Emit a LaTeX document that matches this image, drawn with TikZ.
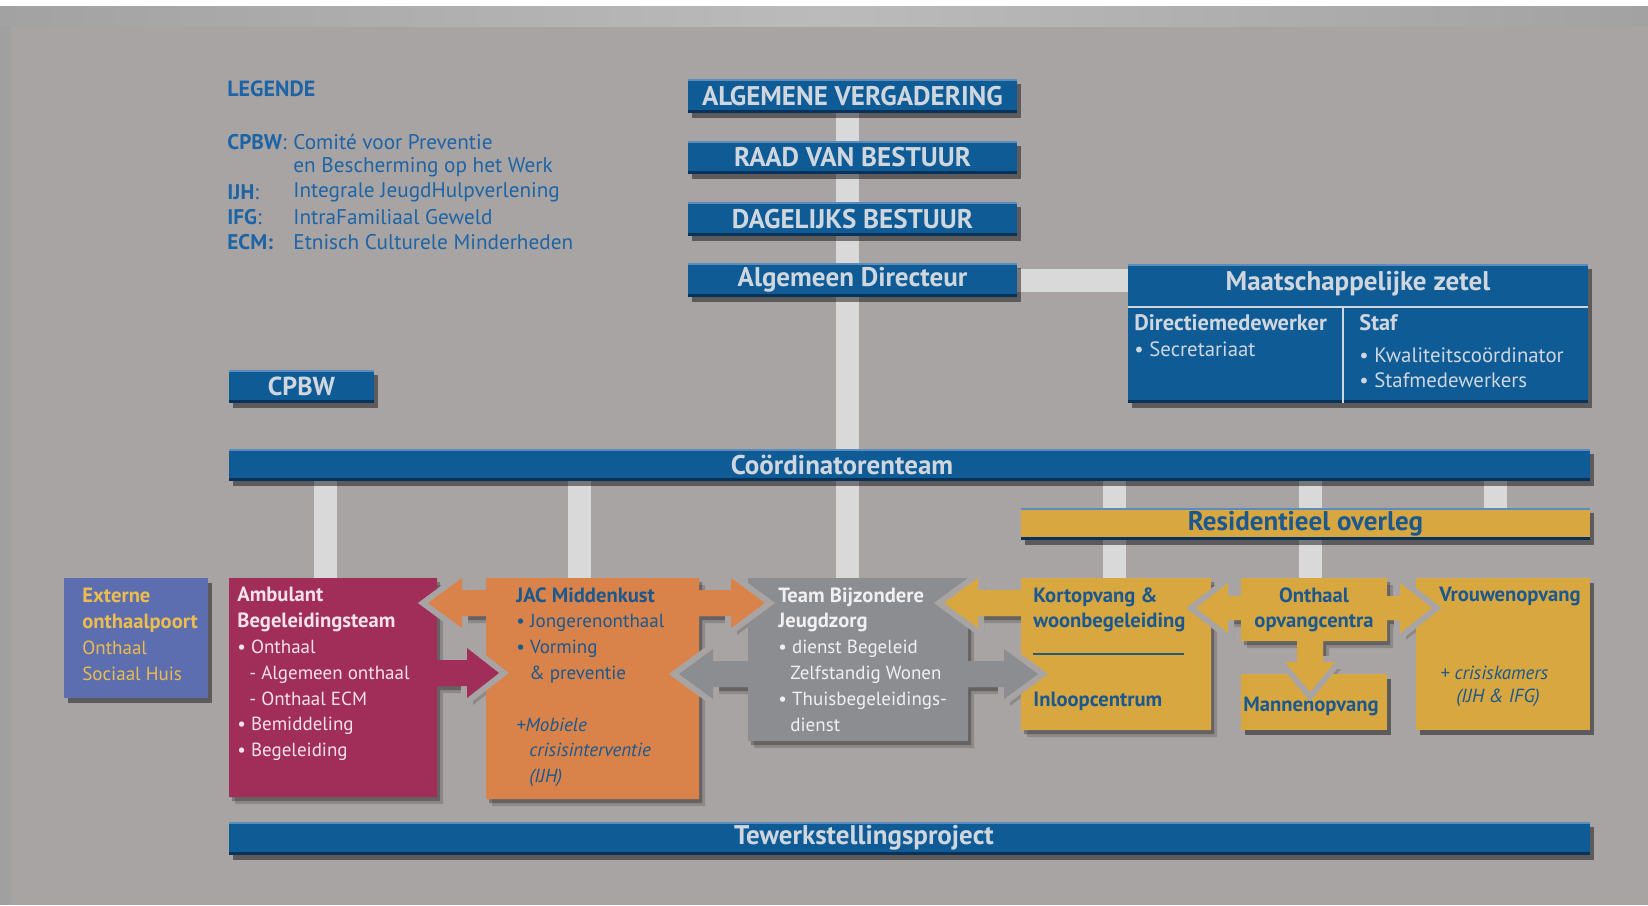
\documentclass[tikz,border=0pt]{standalone}
\usepackage{fontspec}
\setmainfont{PT Sans}
\usetikzlibrary{shadows,backgrounds}
\definecolor{bg}{RGB}{169,164,164}
\definecolor{stripmid}{RGB}{187,187,187}
\definecolor{stripend}{RGB}{162,162,162}
\definecolor{leftstrip}{RGB}{160,160,160}
\definecolor{barblue}{RGB}{14,91,150}
\definecolor{barhi}{RGB}{90,140,190}
\definecolor{barlo}{RGB}{8,50,90}
\definecolor{bartext}{RGB}{208,214,222}
\definecolor{legblue}{RGB}{28,100,165}
\definecolor{connc}{RGB}{217,217,217}
\definecolor{maroonc}{RGB}{160,46,88}
\definecolor{orangec}{RGB}{217,131,74}
\definecolor{grayc}{RGB}{140,141,145}
\definecolor{yellowc}{RGB}{216,167,64}
\definecolor{extblue}{RGB}{92,110,176}
\definecolor{extyellow}{RGB}{236,188,78}
\definecolor{darkblue}{RGB}{26,88,142}
\definecolor{pinkwhite}{RGB}{246,226,234}
\definecolor{nearwhite}{RGB}{240,240,242}
\definecolor{linec}{RGB}{40,90,120}
\newcommand\bx[1]{{\fontsize{10.3}{12.9}\selectfont\bfseries #1}}
\tikzset{
  shadowed/.style={drop shadow={shadow xshift=2pt, shadow yshift=-2.5pt, opacity=.45, fill=black}},
  bluebar/.style={rectangle, inner sep=0pt, fill=barblue, text=bartext, shadowed,
    font=\bfseries\fontsize{13.5}{15}\selectfont,
    path picture={\draw[barhi, line width=1pt] ([yshift=-0.5pt]path picture bounding box.north west) -- ([yshift=-0.5pt]path picture bounding box.north east);
                  \draw[barlo, line width=1.5pt] ([yshift=0.75pt]path picture bounding box.south west) -- ([yshift=0.75pt]path picture bounding box.south east);}},
  barlabel/.style={inner sep=0pt, text=bartext, font=\bfseries\fontsize{13.5}{15}\selectfont},
  connbar/.style={connc, line width=11.5pt, line cap=butt},
  boxbody/.style={rectangle, inner sep=0pt},
  plainbox/.style={rectangle, inner sep=0pt, shadowed},
  txt/.style={inner sep=0pt, align=left, font=\fontsize{9.5}{12.9}\selectfont},
  leg/.style={inner sep=0pt, text=legblue, font=\fontsize{10.6}{12}\selectfont},
  mzt/.style={inner sep=0pt, text=bartext, font=\fontsize{10.4}{12}\selectfont},
  shadA/.style={fill=black, opacity=.28},
  shadB/.style={fill=black, opacity=.16},
  halo/.style={fill=bg, draw=bg, line width=6pt, line join=miter},
}
\begin{document}
\begin{tikzpicture}[x=0.5pt,y=-0.5pt]
\useasboundingbox (0,0) rectangle (1648,905);

% ---------- shape outlines ----------
\def\pAmb{(229,578) -- (437,578) -- (437,660) -- (467,660) -- (467,648) -- (499,673) -- (467,698) -- (467,686) -- (437,686) -- (437,797) -- (229,797) -- cycle}
\def\pJac{(462,578) -- (428,603) -- (462,628) -- (462,616) -- (486,616) -- (486,799) -- (699,799) -- (699,616) -- (731,616) -- (731,628) -- (765,603) -- (731,578) -- (731,590) -- (699,590) -- (699,578) -- (486,578) -- (486,590) -- (462,590) -- cycle}
\def\pGray{(748,578) -- (968,578) -- (968,661) -- (1004,661) -- (1004,649) -- (1038,674) -- (1004,699) -- (1004,687) -- (968,687) -- (968,741) -- (748,741) -- (748,687) -- (713,687) -- (713,699) -- (679,674) -- (713,649) -- (713,661) -- (748,661) -- cycle}
\def\pKort{(1021,578) -- (1211,578) -- (1211,730) -- (1021,730) -- (1021,616) -- (978,616) -- (978,628) -- (944,603) -- (978,578) -- (978,590) -- (1021,590) -- cycle}
\def\pOnt{(1241,578) -- (1387,578) -- (1387,596) -- (1400,596) -- (1400,583) -- (1432,608) -- (1400,633) -- (1400,620) -- (1387,620) -- (1387,641) -- (1323,641) -- (1323,662) -- (1335,662) -- (1310,692) -- (1285,662) -- (1297,662) -- (1297,641) -- (1241,641) -- (1241,620) -- (1228,620) -- (1228,633) -- (1196,608) -- (1228,583) -- (1228,596) -- (1241,596) -- cycle}

% ---------- named nodes (bars and box bodies) ----------
\node[bluebar, minimum width=164.5pt, minimum height=17pt] (av) at (852.5,96) {ALGEMENE VERGADERING};
\node[bluebar, minimum width=164.5pt, minimum height=16.5pt] (rvb) at (852.5,157.5) {RAAD VAN BESTUUR};
\node[bluebar, minimum width=164.5pt, minimum height=17pt] (db) at (852.5,219) {DAGELIJKS BESTUUR};
\node[bluebar, minimum width=164.5pt, minimum height=17pt] (ad) at (852.5,280) {Algemeen Directeur};
\node[bluebar, font=\bfseries\fontsize{13}{15}\selectfont, minimum width=72.5pt, minimum height=16.5pt, text depth=0pt] (cpbw) at (301.5,386.5) {CPBW};
\node[bluebar, minimum width=230pt, minimum height=69.5pt] (mz) at (1358,333.5) {};
\node[bluebar, minimum width=680.5pt, minimum height=16pt] (coord) at (909.5,465) {};
\node[bluebar, fill=yellowc, text=darkblue, minimum width=284.5pt, minimum height=16pt] (res) at (1305.5,524) {Residentieel overleg};
\node[bluebar, minimum width=680.5pt, minimum height=16.5pt] (tw) at (909.5,838.5) {};

\node[boxbody, minimum width=104pt, minimum height=109.5pt] (ambb) at (333,687.5) {};
\node[boxbody, minimum width=106.5pt, minimum height=110.5pt] (jacb) at (592.5,688.5) {};
\node[boxbody, minimum width=110pt, minimum height=81.5pt] (grayb) at (858,659.5) {};
\node[boxbody, minimum width=95pt, minimum height=76pt] (kortb) at (1116,654) {};
\node[boxbody, minimum width=73pt, minimum height=31.5pt] (ontb) at (1314,609.5) {};

\coordinate (xmain) at (847,0);
\coordinate (xa) at (325,0);
\coordinate (xb) at (579,0);
\coordinate (xc) at (1114,0);
\coordinate (xd) at (1310,0);
\coordinate (xe) at (1495,0);

% ---------- background and connectors ----------
\begin{pgfonlayer}{background}
\fill[bg] (0,0) rectangle (1648,905);
\fill[white] (0,0) rectangle (1648,6);
\shade[left color=stripend, right color=stripend, middle color=stripmid] (0,6) rectangle (1648,26);
\fill[leftstrip] (0,26) rectangle (11,905);
\draw[connbar] (av.south -| xmain) -- (rvb.north -| xmain);
\draw[connbar] (rvb.south -| xmain) -- (db.north -| xmain);
\draw[connbar] (db.south -| xmain) -- (ad.north -| xmain);
\draw[connbar] (ad.south -| xmain) -- (coord.north -| xmain);
\draw[connbar] (coord.south -| xmain) -- (grayb.north -| xmain);
\draw[connbar] (ad.east) -- (mz.west |- ad.east);
\draw[connbar] (coord.south -| xa) -- (ambb.north -| xa);
\draw[connbar] (coord.south -| xb) -- (jacb.north -| xb);
\draw[connbar] (coord.south -| xc) -- (res.north -| xc);
\draw[connbar] (coord.south -| xd) -- (res.north -| xd);
\draw[connbar] (coord.south -| xe) -- (res.north -| xe);
\draw[connbar] (res.south -| xc) -- (kortb.north -| xc);
\draw[connbar] (res.south -| xd) -- (ontb.north -| xd);
\end{pgfonlayer}

% ---------- shadows of composite shapes ----------
\foreach \pp in {\pAmb,\pJac,\pGray,\pKort,\pOnt}{
  \fill[shadB, shift={(6,7)}] \pp;
  \fill[shadA, shift={(3,4)}] \pp;
}

% ---------- fills ----------
\fill[maroonc] \pAmb;
\fill[orangec] \pJac;
\fill[grayc] \pGray;
\fill[yellowc] \pKort;
\fill[yellowc] \pOnt;

\node[plainbox, fill=extblue, minimum width=72pt, minimum height=60pt] (ext) at (136,638) {};
\node[plainbox, fill=yellowc, minimum width=73pt, minimum height=28pt] (mann) at (1314,702) {};
\node[plainbox, fill=yellowc, minimum width=87pt, minimum height=76pt] (vrouw) at (1503,654) {};
\node[txt, text=darkblue, font=\bfseries\fontsize{10.3}{12}\selectfont] (mannt) at (1311,706) {Mannenopvang};

% ---------- notches (gaps round the arrow tips) ----------
\fill[halo] (462,578) -- (428,603) -- (462,628) -- cycle;
\fill[orangec] (486,590) -- (462,590) -- (462,578) -- (428,603) -- (462,628) -- (462,616) -- (486,616) -- cycle;
\fill[halo] (731,578) -- (765,603) -- (731,628) -- cycle;
\fill[orangec] (699,590) -- (731,590) -- (731,578) -- (765,603) -- (731,628) -- (731,616) -- (699,616) -- cycle;
\fill[halo] (467,648) -- (499,673) -- (467,698) -- cycle;
\fill[maroonc] (437,660) -- (467,660) -- (467,648) -- (499,673) -- (467,698) -- (467,686) -- (437,686) -- cycle;
\fill[halo] (713,649) -- (679,674) -- (713,699) -- cycle;
\fill[grayc] (748,661) -- (713,661) -- (713,649) -- (679,674) -- (713,699) -- (713,687) -- (748,687) -- cycle;
\fill[halo] (1004,649) -- (1038,674) -- (1004,699) -- cycle;
\fill[grayc] (968,661) -- (1004,661) -- (1004,649) -- (1038,674) -- (1004,699) -- (1004,687) -- (968,687) -- cycle;
\fill[halo] (978,578) -- (944,603) -- (978,628) -- cycle;
\fill[yellowc] (1021,590) -- (978,590) -- (978,578) -- (944,603) -- (978,628) -- (978,616) -- (1021,616) -- cycle;
\fill[halo] (1228,583) -- (1196,608) -- (1228,633) -- cycle;
\fill[yellowc] (1241,596) -- (1228,596) -- (1228,583) -- (1196,608) -- (1228,633) -- (1228,620) -- (1241,620) -- cycle;
\fill[halo] (1400,583) -- (1432,608) -- (1400,633) -- cycle;
\fill[yellowc] (1387,596) -- (1400,596) -- (1400,583) -- (1432,608) -- (1400,633) -- (1400,620) -- (1387,620) -- cycle;
\fill[halo] (1285,662) -- (1310,692) -- (1335,662) -- cycle;
\fill[yellowc] (1297,641) -- (1297,662) -- (1285,662) -- (1310,692) -- (1335,662) -- (1323,662) -- (1323,641) -- cycle;

% ---------- Maatschappelijke zetel inner lines ----------
\draw[bartext, line width=1pt] (mz.west |- 0,307) -- (mz.east |- 0,307);
\draw[bartext, line width=1pt] (1343,307) -- (1343,403);

% ---------- texts ----------
\node[barlabel] (coordt) at (842,465) {Coördinatorenteam};
\node[barlabel] (twt) at (864,838) {Tewerkstellingsproject};
\node[barlabel] (mzt) at (1358,284) {Maatschappelijke zetel};
\node[mzt, anchor=west, font=\bfseries\fontsize{11.2}{12}\selectfont] (mz1) at (1134,323) {Directiemedewerker};
\node[mzt, anchor=west] (mz2) at (1134,349) {• Secretariaat};
\node[mzt, anchor=west, font=\bfseries\fontsize{11.2}{12}\selectfont] (mz3) at (1359,323) {Staf};
\node[mzt, anchor=west] (mz4) at (1359,355) {• Kwaliteitscoördinator};
\node[mzt, anchor=west] (mz5) at (1359,380) {• Stafmedewerkers};

\node[leg, anchor=west, font=\bfseries\fontsize{11}{12}\selectfont] (legt) at (227,89) {LEGENDE};
\node[leg, anchor=west] (lk1) at (227,142) {\textbf{CPBW}:};
\node[leg, anchor=west] (lv1) at (293,142) {Comité voor Preventie};
\node[leg, anchor=west] (lv1b) at (293,167) {en Bescherming op het Werk};
\node[leg, anchor=west] (lk2) at (227,192) {\textbf{IJH}:};
\node[leg, anchor=west] (lv2) at (293,192) {Integrale JeugdHulpverlening};
\node[leg, anchor=west] (lk3) at (227,217) {\textbf{IFG}:};
\node[leg, anchor=west] (lv3) at (293,217) {IntraFamiliaal Geweld};
\node[leg, anchor=west] (lk4) at (227,242) {\textbf{ECM:}};
\node[leg, anchor=west] (lv4) at (293,242) {Etnisch Culturele Minderheden};

\node[txt, text=extyellow, anchor=north west] (extt) at (82,588) {\bx{Externe}\\ \bx{onthaalpoort}\\ Onthaal\\ Sociaal Huis};
\node[txt, text=pinkwhite, anchor=north west] (ambt) at (237,587) {\bx{Ambulant}\\ \bx{Begeleidingsteam}\\ • Onthaal\\ \hspace*{6pt}- Algemeen onthaal\\ \hspace*{6pt}- Onthaal ECM\\ • Bemiddeling\\ • Begeleiding};
\node[txt, text=darkblue, anchor=north west] (jact) at (516,587) {\bx{JAC Middenkust}\\ • Jongerenonthaal\\ • Vorming\\ \hspace*{6.5pt}\& preventie\\[12.9pt] \textit{+Mobiele}\\ \hspace*{6.5pt}\textit{crisisinterventie}\\ \hspace*{6.5pt}\textit{(IJH)}};
\node[txt, text=nearwhite, anchor=north west] (grayt) at (778,587) {\bx{Team Bijzondere}\\ \bx{Jeugdzorg}\\ • dienst Begeleid\\ \hspace*{6pt}Zelfstandig Wonen\\ • Thuisbegeleidings-\\ \hspace*{6pt}dienst};
\node[txt, text=darkblue, anchor=north west, font=\bfseries\fontsize{10.3}{12.9}\selectfont] (kortt) at (1033,587) {Kortopvang \&\\ woonbegeleiding};
\draw[linec, line width=1pt] (1033,654) -- (1184,654);
\node[txt, text=darkblue, anchor=west, font=\bfseries\fontsize{10.3}{12.9}\selectfont] (inl) at (1033,701) {Inloopcentrum};
\node[txt, text=darkblue, anchor=north, align=center, font=\bfseries\fontsize{10.3}{12.9}\selectfont] (ontt) at (1314,587) {Onthaal\\ opvangcentra};
\node[txt, text=darkblue, anchor=north west, font=\bfseries\fontsize{10.3}{12.9}\selectfont] (vrt) at (1439,587) {Vrouwenopvang};
\node[txt, text=darkblue, anchor=west, font=\itshape\fontsize{9.5}{12.9}\selectfont] (vr2) at (1440,673) {+ crisiskamers};
\node[txt, text=darkblue, anchor=west, font=\itshape\fontsize{9.5}{12.9}\selectfont] (vr3) at (1456,698) {(IJH \& IFG)};
\end{tikzpicture}
\end{document}
